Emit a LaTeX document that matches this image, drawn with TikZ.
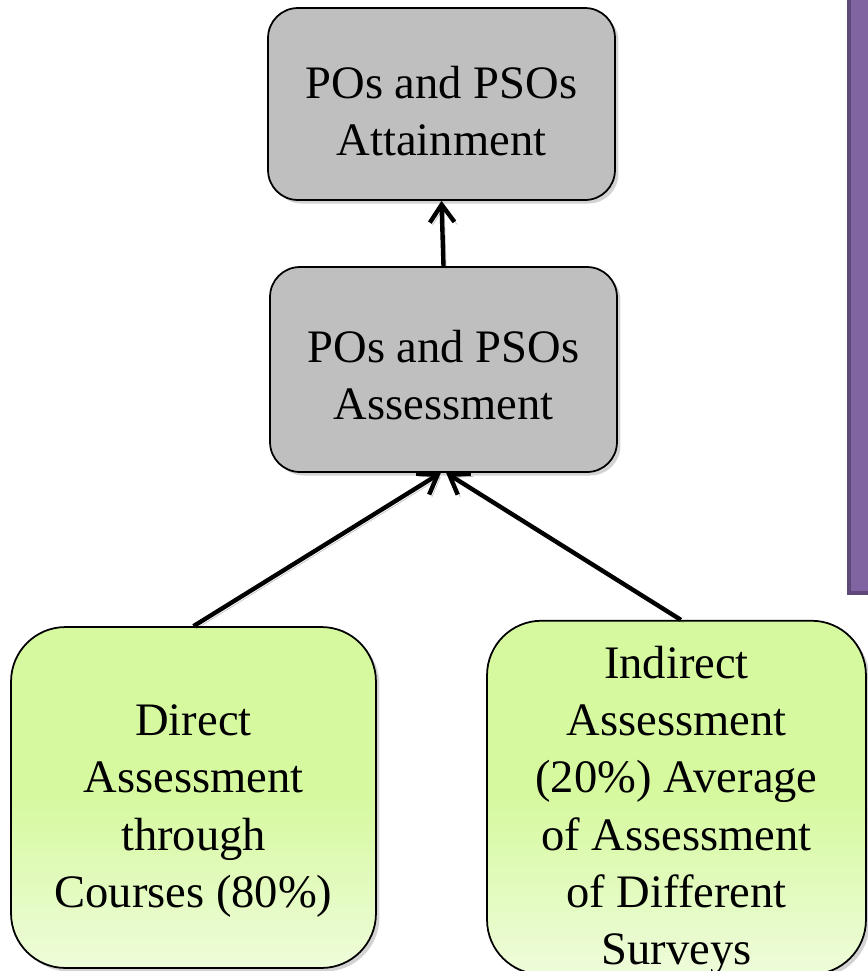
\documentclass[tikz,border=0pt]{standalone}
\usepackage{fontspec}
\setmainfont{Liberation Serif}
\usepackage{tikz}
\usetikzlibrary{arrows.meta,shapes,positioning,shadows}
\definecolor{boxgray}{RGB}{191,191,191}
\definecolor{leaftop}{RGB}{214,249,160}
\definecolor{leafbot}{RGB}{238,252,218}
\definecolor{sidepurple}{RGB}{128,100,162}
\definecolor{sideborder}{RGB}{94,73,122}
% pushes a text block down inside its box
\newcommand{\topgap}[1]{\rule{0pt}{#1}}
\tikzset{
  basic/.style  = {draw, line width=1pt, align=center, rectangle, inner sep=0pt,
                   font=\fontsize{26.5}{32.5}\selectfont,
                   drop shadow={shadow xshift=2pt, shadow yshift=-2pt, opacity=0.35}},
  goal/.style   = {basic, rounded corners=17pt, fill=boxgray,
                   minimum width=6.94cm},
  leaf/.style   = {basic, rounded corners=31pt, top color=leaftop,
                   bottom color=leafbot, middle color=leaftop,
                   minimum height=6.82cm},
  link/.style   = {line width=2.5pt, -{Straight Barb[length=10pt,width=14pt]},
                   preaction={draw=black, opacity=0.25,
                              transform canvas={shift={(1.5pt,-1.5pt)}}}}
}

\begin{document}
\begin{tikzpicture}[x=0.02cm, y=-0.02cm]
\useasboundingbox (0,0) rectangle (868,971);

% side panel, cut off at the right
\draw[sideborder, fill=sidepurple, line width=2pt] (849,-10) rectangle (880,593);

% attainment and assessment
\node[goal, minimum height=3.84cm] (attain) at (441.5,104)
  {\topgap{26pt}POs and PSOs\\Attainment};
\node[goal, minimum height=4.1cm] (assess) at (443.5,369.5)
  {\topgap{25pt}POs and PSOs\\Assessment};

% the two sources
\node[leaf, minimum width=7.3cm] (direct) at (193.5,797.5)
  {\topgap{33pt}Direct\\Assessment\\through\\Courses (80\%)};
\node[leaf, minimum width=7.58cm] (indirect) at (676.5,797.5)
  {\topgap{33pt}Indirect\\Assessment\\(20\%) Average\\of Assessment\\of Different\\Surveys};

\draw[link] (assess.north) -- (attain.south);
\draw[link] (direct.north) -- ([xshift=-1.5pt]assess.south);
\draw[link] ([xshift=2.5pt]indirect.north) -- ([xshift=1.5pt]assess.south);

\end{tikzpicture}
\end{document}
